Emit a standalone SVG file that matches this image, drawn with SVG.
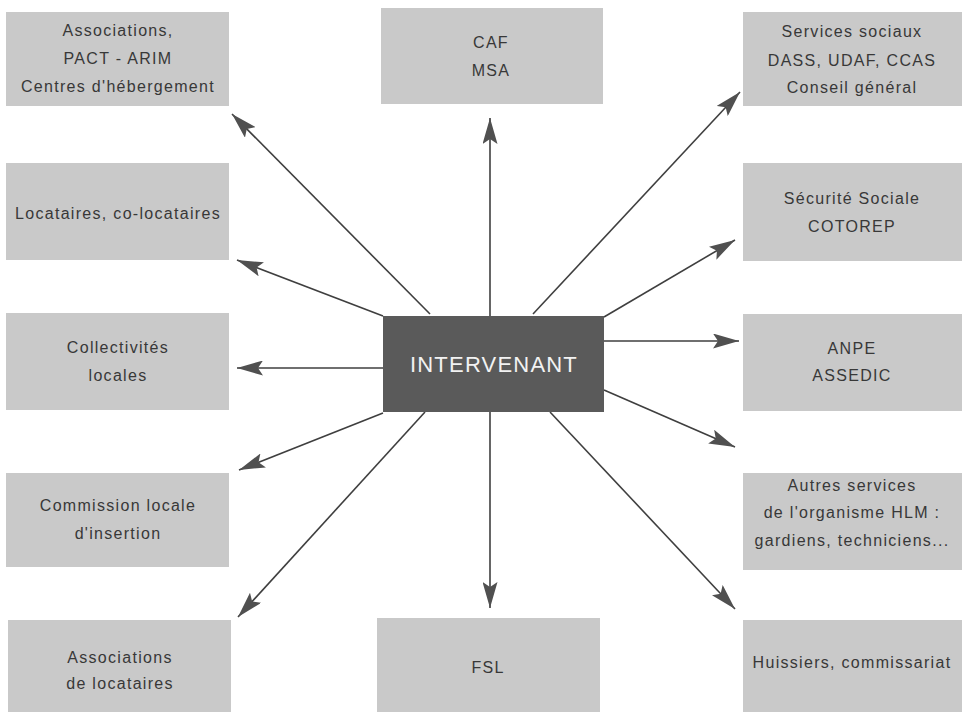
<svg xmlns="http://www.w3.org/2000/svg" width="962" height="714" viewBox="0 0 962 714">
<defs>
<style>
.box{fill:#c9c9c9}
.t{font-family:"Liberation Sans",Arial,sans-serif;font-size:16px;letter-spacing:1.3px;fill:#383838;text-anchor:middle}
.c{font-family:"Liberation Sans",Arial,sans-serif;font-size:22px;letter-spacing:1.2px;fill:#f2f2f2;text-anchor:middle}
.ln{stroke:#3f3f3f;stroke-width:1.6;fill:none;marker-end:url(#ah)}
</style>
<marker id="ah" markerUnits="userSpaceOnUse" markerWidth="26" markerHeight="15" refX="26" refY="7.5" orient="auto" viewBox="0 0 26 15">
<path d="M0,0 L26,7.5 L0,15 L5,7.5 z" fill="#505050"/>
</marker>
</defs>
<rect width="962" height="714" fill="#ffffff"/>
<g id="connectors">
<line class="ln" x1="430" y1="314" x2="232" y2="114"/>
<line class="ln" x1="490" y1="316" x2="490" y2="118"/>
<line class="ln" x1="533" y1="314" x2="740" y2="92"/>
<line class="ln" x1="604" y1="317" x2="735" y2="240"/>
<line class="ln" x1="604" y1="341" x2="739" y2="341"/>
<line class="ln" x1="604" y1="390" x2="735" y2="447"/>
<line class="ln" x1="550" y1="412" x2="735" y2="609"/>
<line class="ln" x1="490" y1="412" x2="490" y2="608"/>
<line class="ln" x1="425" y1="412" x2="238" y2="617"/>
<line class="ln" x1="383" y1="413" x2="239" y2="470"/>
<line class="ln" x1="383" y1="368" x2="237" y2="368"/>
<line class="ln" x1="383" y1="316" x2="237" y2="260"/>
</g>
<g id="n-center">
<rect x="383" y="316" width="221" height="96" fill="#5a5a5a"/>
<text class="c" x="494" y="372">INTERVENANT</text>
</g>
<g id="n-assoc">
<rect class="box" x="6" y="12" width="223" height="94"/>
<text class="t" x="118" y="36">Associations,</text>
<text class="t" x="118" y="64">PACT - ARIM</text>
<text class="t" x="118" y="92">Centres d'hébergement</text>
</g>
<g id="n-locataires">
<rect class="box" x="6" y="163" width="223" height="97"/>
<text class="t" x="118" y="219">Locataires, co-locataires</text>
</g>
<g id="n-collectivites">
<rect class="box" x="6" y="313" width="223" height="97"/>
<text class="t" x="118" y="353">Collectivités</text>
<text class="t" x="118" y="381">locales</text>
</g>
<g id="n-commission">
<rect class="box" x="6" y="473" width="223" height="94"/>
<text class="t" x="118" y="511">Commission locale</text>
<text class="t" x="118" y="539">d'insertion</text>
</g>
<g id="n-assoc-loc">
<rect class="box" x="8" y="620" width="223" height="92"/>
<text class="t" x="120" y="663">Associations</text>
<text class="t" x="120" y="689">de locataires</text>
</g>
<g id="n-caf">
<rect class="box" x="381" y="8" width="222" height="96"/>
<text class="t" x="491" y="48">CAF</text>
<text class="t" x="491" y="76">MSA</text>
</g>
<g id="n-fsl">
<rect class="box" x="377" y="618" width="223" height="94"/>
<text class="t" x="488" y="673">FSL</text>
</g>
<g id="n-services">
<rect class="box" x="743" y="12" width="219" height="94"/>
<text class="t" x="852" y="37">Services sociaux</text>
<text class="t" x="852" y="66">DASS, UDAF, CCAS</text>
<text class="t" x="852" y="93">Conseil général</text>
</g>
<g id="n-securite">
<rect class="box" x="743" y="163" width="219" height="98"/>
<text class="t" x="852" y="204">Sécurité Sociale</text>
<text class="t" x="852" y="232">COTOREP</text>
</g>
<g id="n-anpe">
<rect class="box" x="743" y="314" width="219" height="97"/>
<text class="t" x="852" y="354">ANPE</text>
<text class="t" x="852" y="381">ASSEDIC</text>
</g>
<g id="n-autres">
<rect class="box" x="743" y="473" width="219" height="97"/>
<text class="t" x="852" y="491">Autres services</text>
<text class="t" x="852" y="518">de l'organisme HLM :</text>
<text class="t" x="852" y="546">gardiens, techniciens...</text>
</g>
<g id="n-huissiers">
<rect class="box" x="743" y="620" width="219" height="92"/>
<text class="t" x="852" y="668">Huissiers, commissariat</text>
</g>
</svg>
